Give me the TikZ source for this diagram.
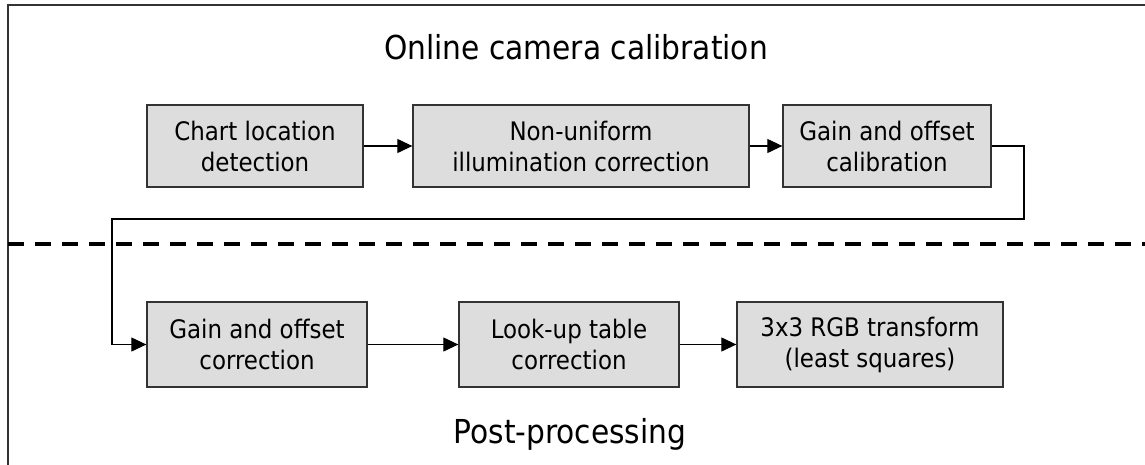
\documentclass[tikz,border=0pt]{standalone}
\usepackage{fontspec}
\setmainfont{DejaVu Sans Condensed}
\usetikzlibrary{arrows.meta}
\definecolor{boxfill}{HTML}{DDDDDD}
\definecolor{edge}{HTML}{333333}
\tikzset{
  stage/.style={draw=edge, line width=1.3pt, fill=boxfill, align=center, inner sep=0pt,
    font=\fontsize{25.5}{31}\selectfont, text=black},
  arr/.style={draw=black, line width=1.1pt, -{Triangle[length=15pt,width=14pt]}},
  frameline/.style={draw=edge, line width=1.4pt},
  divider/.style={draw=black, line width=4pt, dash pattern=on 16pt off 11pt},
  heading/.style={font=\fontsize{33}{40}\selectfont, anchor=base, text=black}
}
\begin{document}
\begin{tikzpicture}[x=1pt,y=-1pt]
\useasboundingbox (0,0) rectangle (1145,465);
% frame
\coordinate (ftr) at (1145,5);
\coordinate (ftl) at (8,5);
\coordinate (fbl) at (8,465);
\draw[frameline] (ftr) -- (ftl) -- (fbl);
% divider
\coordinate (dl) at (8,244);
\coordinate (dr) at (1145,244);
\draw[divider] (dl) -- (dr);
% headings
\node[heading] (t1) at (576,60) {Online camera calibration};
\node[heading] (t2) at (570,443) {Post-processing};
% stages
\node[stage, minimum width=216pt, minimum height=82pt] (b1) at (255,146) {Chart location\\detection};
\node[stage, minimum width=336pt, minimum height=82pt] (b2) at (581,146) {Non-uniform\\illumination correction};
\node[stage, minimum width=208pt, minimum height=82pt] (b3) at (887,146) {Gain and offset\\calibration};
\node[stage, minimum width=220pt, minimum height=85pt] (b4) at (257,344.5) {Gain and offset\\correction};
\node[stage, minimum width=220pt, minimum height=85pt] (b5) at (569,344.5) {Look-up table\\correction};
\node[stage, minimum width=266pt, minimum height=85pt] (b6) at (870,344.5) {3x3 RGB transform\\(least squares)};
% connectors
\draw[arr] (b1) -- (b2);
\draw[arr] (b2) -- (b3);
\coordinate (c1) at (1024,219);
\coordinate (c2) at (112,219);
\draw[arr] (b3.east) -| (c1) -- (c2) |- (b4.west);
\draw[arr] (b4) -- (b5);
\draw[arr] (b5) -- (b6);
\end{tikzpicture}
\end{document}
